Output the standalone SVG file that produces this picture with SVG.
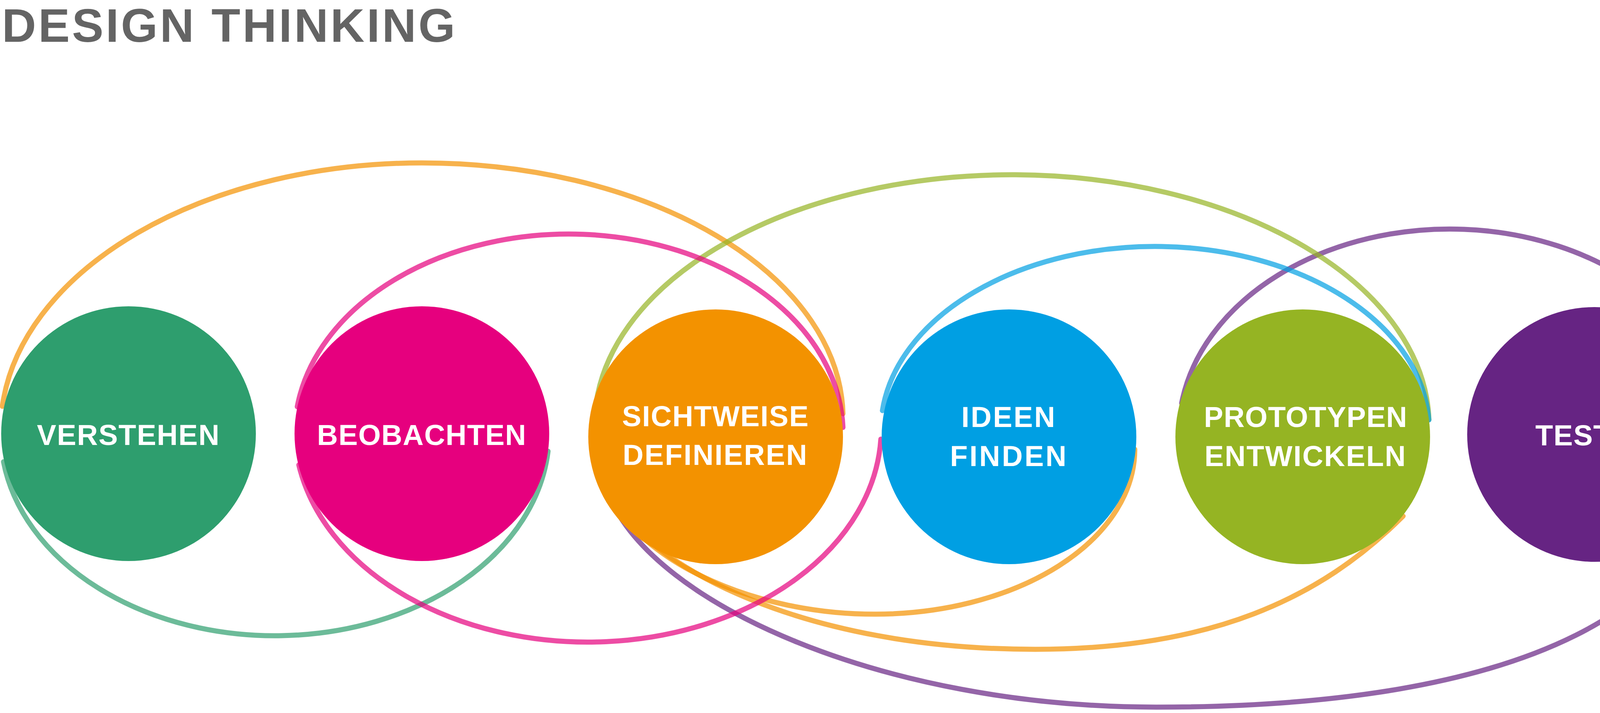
<svg xmlns="http://www.w3.org/2000/svg" width="4408" height="1825" viewBox="0 0 4408 1825">
<style>
.title{font-family:"Liberation Sans",Arial,sans-serif;font-weight:700;fill:#646464;font-size:121px}
.lbl{font-family:"Liberation Sans",Arial,sans-serif;font-weight:700;fill:#ffffff;font-size:74px;text-anchor:middle}
.arc{fill:none;stroke-width:13;stroke-linecap:round;stroke-opacity:0.7}
.c-green{stroke:#2E9E6E}
.c-mag{stroke:#E6007E}
.c-orange{stroke:#F39200}
.c-blue{stroke:#009FE3}
.c-lime{stroke:#95B423}
.c-purple{stroke:#662483}
</style>
<rect width="4408" height="1825" fill="#ffffff"/>
<text class="title" x="5" y="107" textLength="1160" lengthAdjust="spacing">DESIGN THINKING</text>

<g id="connectors">
<path class="arc c-purple" d="M 1560 1270 C 1674 1546 2260 1810 2960 1810 C 3900 1810 4402 1560 4402 1090"/>
<path class="arc c-purple" d="M 3025 1032 A 694 522 0 0 1 4405 1087"/>
<path class="arc c-orange" d="M 6 1040 A 1078 683 0 0 1 1080 417 A 1078 653 0 0 1 2158 1059"/>
<path class="arc c-orange" d="M 1580 1296 C 1680 1450 2050 1662 2650 1662 C 3100 1662 3380 1533 3592 1321"/>
<path class="arc c-orange" d="M 1575 1290 C 1660 1440 1930 1572 2240 1572 A 665 422 0 0 0 2905 1150"/>
<path class="arc c-green" d="M 1403 1155 A 702 519 0 0 1 9 1182"/>
<path class="arc c-lime" d="M 1523 1063 A 1068 640 0 0 1 3658 1074"/>
<path class="arc c-mag" d="M 761 1041 A 702 512 0 0 1 2158 1094"/>
<path class="arc c-mag" d="M 2255 1124 A 751 547 0 0 1 765 1190"/>
<path class="arc c-blue" d="M 2259 1051 A 702 470 0 0 1 3658 1075"/>
</g>

<g id="node-verstehen">
<circle cx="329" cy="1110" r="326" fill="#2E9E6E"/>
<text class="lbl" x="328" y="1139" textLength="467" lengthAdjust="spacing">VERSTEHEN</text>
</g>
<g id="node-beobachten">
<circle cx="1080" cy="1110" r="326" fill="#E6007E"/>
<text class="lbl" x="1079" y="1139" textLength="535" lengthAdjust="spacing">BEOBACHTEN</text>
</g>
<g id="node-sichtweise">
<circle cx="1832" cy="1118" r="326" fill="#F39200"/>
<text class="lbl" x="1831" y="1091" textLength="477" lengthAdjust="spacing">SICHTWEISE</text>
<text class="lbl" x="1830" y="1190" textLength="472" lengthAdjust="spacing">DEFINIEREN</text>
</g>
<g id="node-ideen">
<circle cx="2583" cy="1118" r="326" fill="#009FE3"/>
<text class="lbl" x="2581" y="1093" textLength="240" lengthAdjust="spacing">IDEEN</text>
<text class="lbl" x="2581" y="1193" textLength="298" lengthAdjust="spacing">FINDEN</text>
</g>
<g id="node-prototypen">
<circle cx="3335" cy="1118" r="326" fill="#95B423"/>
<text class="lbl" x="3342" y="1093" textLength="520" lengthAdjust="spacing">PROTOTYPEN</text>
<text class="lbl" x="3341" y="1193" textLength="515" lengthAdjust="spacing">ENTWICKELN</text>
</g>
<g id="node-testen">
<circle cx="4082" cy="1112" r="326" fill="#662483"/>
<text class="lbl" x="4080" y="1140" textLength="299" lengthAdjust="spacing">TESTEN</text>
</g>
</svg>
